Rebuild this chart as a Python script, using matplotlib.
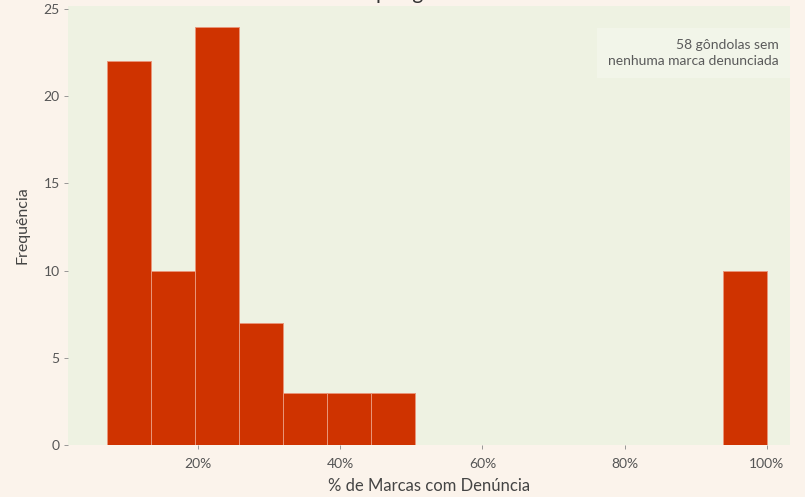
import numpy as np
import matplotlib
matplotlib.use("Agg")
import matplotlib.pyplot as plt
from matplotlib.ticker import PercentFormatter

# Data
pct_min = 1 / 14          # smallest share of denounced brands per gondola
pct_max = 1.0             # largest share
n_bins = 15
counts = [22, 10, 24, 7, 3, 3, 3, 0, 0, 0, 0, 0, 0, 0, 10]
y_ticks = [0, 5, 10, 15, 20, 25]
x_ticks = [0.2, 0.4, 0.6, 0.8, 1.0]
note = "58 gôndolas sem\nnenhuma marca denunciada"
title = "Distribuição do % de marcas denunciadas\npor gôndola"
xlabel = "% de Marcas com Denúncia"
ylabel = "Frequência"

plt.rcParams['font.family'] = ['Lato', 'DejaVu Sans']

fig = plt.figure(figsize=(8.05, 4.97), dpi=100, facecolor='#fbf3eb')
ax = fig.add_axes([0.0845, 0.1046, 0.8965, 0.884])
ax.set_facecolor('#eef2e2')

edges = np.linspace(pct_min, pct_max, n_bins + 1)
ax.bar(edges[:-1], counts, width=np.diff(edges), align='edge',
       color='#cf3300', edgecolor='#e9967a', linewidth=0.7)

ax.set_xlim(0.0172, 1.032)
ax.set_ylim(0, 25.2)
ax.set_xticks(x_ticks)
ax.set_yticks(y_ticks)
ax.xaxis.set_major_formatter(PercentFormatter(1, decimals=0))
for s in ax.spines.values():
    s.set_visible(False)
ax.tick_params(axis='both', colors='#888888', labelcolor='#555555',
               labelsize=10, length=3, width=0.6, pad=3)
ax.tick_params(axis='x', pad=6)

ax.set_xlabel(xlabel, fontsize=12, color='#444444', labelpad=6)
ax.set_ylabel(ylabel, fontsize=11.5, color='#444444', labelpad=10)

ax.text(0.985, 0.925, note, transform=ax.transAxes, ha='right', va='top',
        fontsize=10, color='#5a5a5a', linespacing=1.45,
        bbox=dict(boxstyle='square,pad=0.8', facecolor='white', alpha=0.25,
                  edgecolor='none'))

fig.text(0.535, 1.04, title, ha='center', va='center', fontsize=15,
         color='#333333', linespacing=1.3)

fig.savefig('out.png', dpi=100, facecolor=fig.get_facecolor())
